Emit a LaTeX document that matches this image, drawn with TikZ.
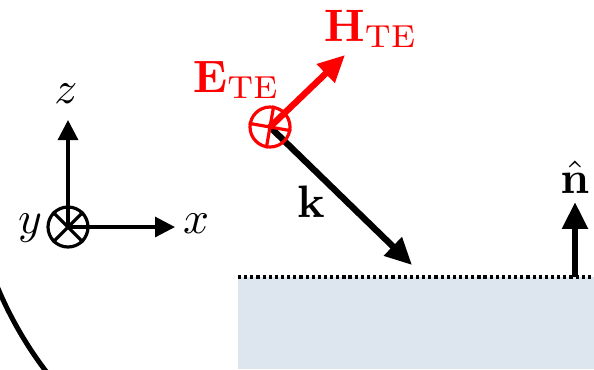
\documentclass[tikz,border=0pt]{standalone}
\usepackage{amsmath,amssymb}
\usepackage{xcolor}
\usetikzlibrary{arrows.meta, calc}
\definecolor{surfaceblue}{RGB}{221,229,238}

\begin{document}
\begin{tikzpicture}[x=0.22pt, y=-0.22pt]
\tikzstyle{thinline} = [line width=0.7pt, -{Triangle[length=4.4pt,width=4.4pt]}]
\tikzstyle{thickline} = [line width=1.4pt, -{Triangle[length=5.9pt,width=5.4pt]}]
\tikzstyle{dirnode} = [circle, draw, line width=0.7pt, minimum size=8.8pt, inner sep=0pt]
\tikzstyle{lbl} = [inner sep=0pt, anchor=base]

\useasboundingbox (0,0) rectangle (594,369);
\clip (0,0) rectangle (594,369);

\fill[surfaceblue] (238,277) rectangle (594,369);
\draw[line width=0.7pt, dash pattern=on 0.7pt off 0.65pt] (238,277) -- (594,277);
\draw[line width=1.1pt] (350,140) ++(140:382) arc[start angle=140, end angle=165, radius=382];

\node (yaxis) [dirnode] at (68,227) {};
\draw[line width=0.7pt] (yaxis.45) -- (yaxis.225) (yaxis.135) -- (yaxis.315);
\coordinate (ztip) at (68,120);
\coordinate (xtip) at (175,227);
\draw[thinline] (yaxis.center) -- (ztip);
\draw[thinline] (yaxis.center) -- (xtip);
\node (zlab) [lbl] at (66,103) {$z$};
\node (xlab) [lbl] at (196,233) {$x$};
\node (ylab) [lbl] at (30,233) {$y$};

\coordinate (ecent) at (270,127);
\coordinate (ktip) at (412,265);
\coordinate (htip) at (345,55);
\draw[thickline] (ecent) -- (ktip);
\node (ecirc) [dirnode, red] at (ecent) {};
\draw[red, line width=0.7pt] (ecirc.80) -- (ecirc.260) (ecirc.170) -- (ecirc.350);
\draw[thickline, red] (ecirc.center) -- (htip);
\node (elab) [lbl, anchor=base west, red] at (192,92) {$\mathbf{E}_{\mathrm{TE}}$};
\node (hlab) [lbl, anchor=base west, red] at (323,41) {$\mathbf{H}_{\mathrm{TE}}$};
\node (klab) [lbl] at (311,217) {$\mathbf{k}$};

\coordinate (nbase) at (575,277);
\coordinate (ntip) at (575,202);
\draw[thickline] (nbase) -- (ntip);
\node (nlab) [lbl] at (575,193) {$\hat{\mathbf{n}}$};
\end{tikzpicture}
\end{document}
